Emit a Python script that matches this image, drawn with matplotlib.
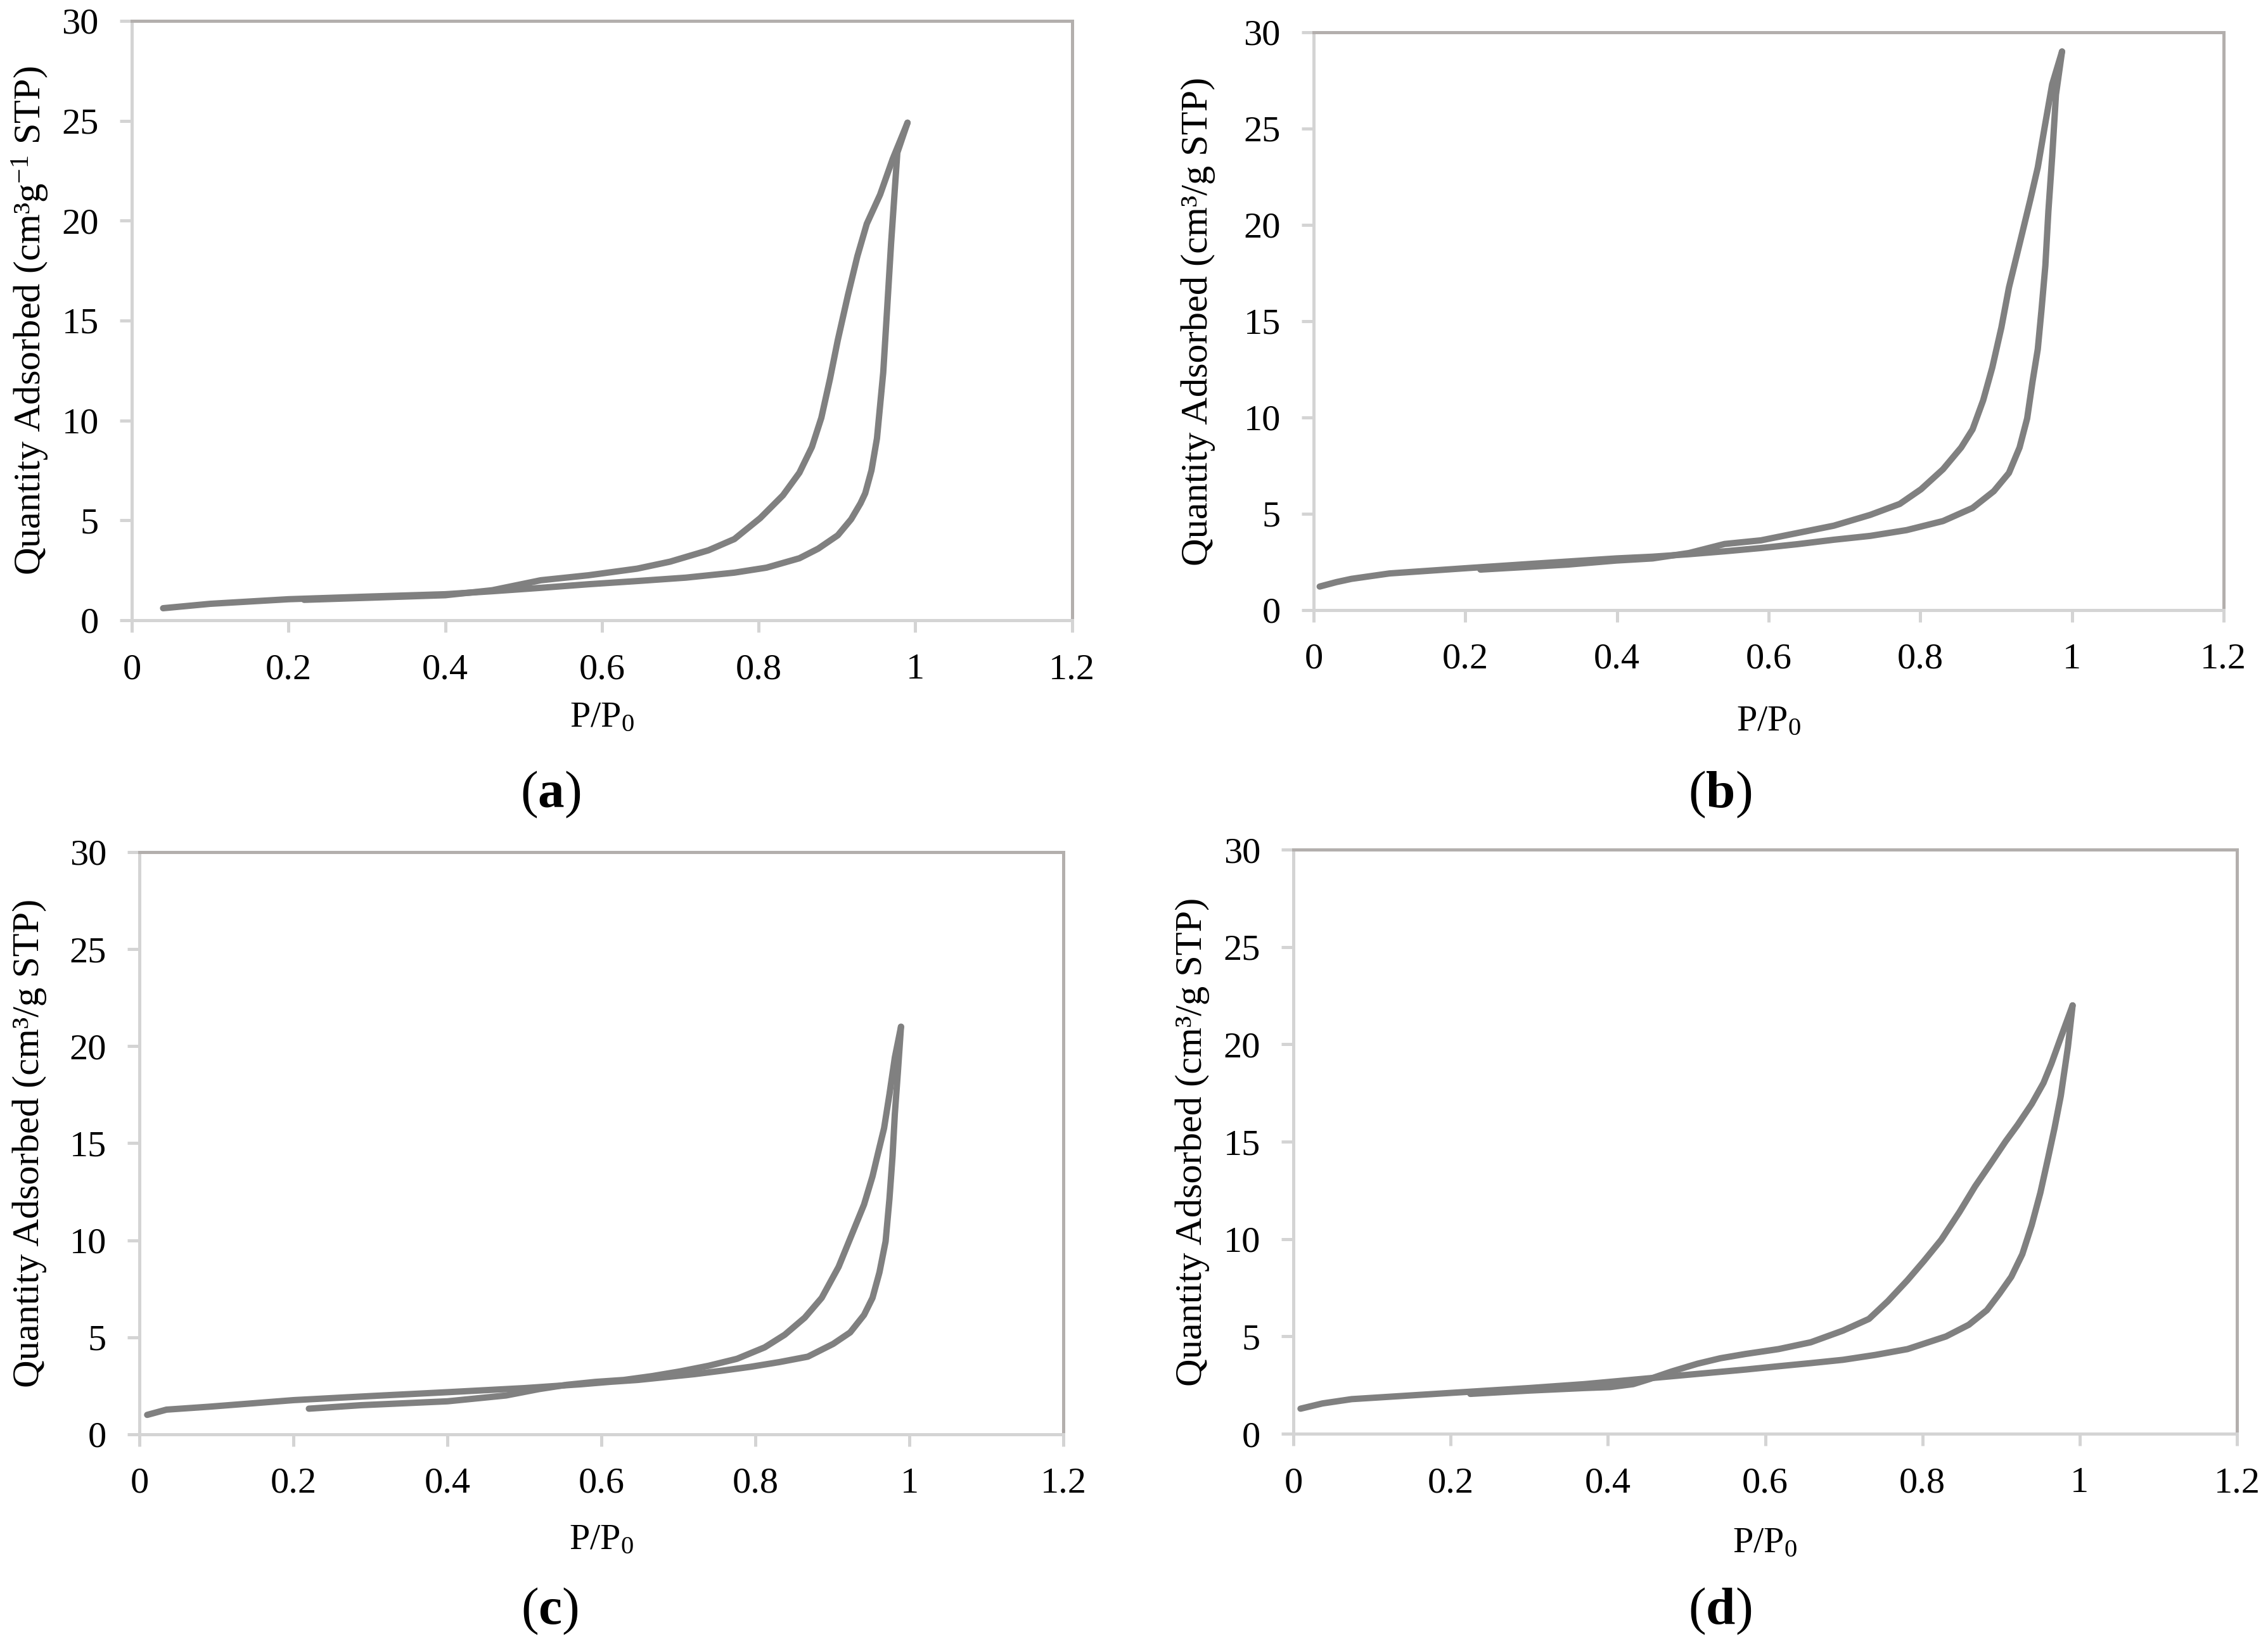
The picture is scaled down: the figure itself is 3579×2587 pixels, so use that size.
import matplotlib
matplotlib.use('Agg')
import matplotlib.pyplot as plt

plt.rcParams['font.family'] = ['Liberation Serif', 'DejaVu Serif']
plt.rcParams['mathtext.fontset'] = 'custom'
plt.rcParams['mathtext.rm'] = 'Liberation Serif'
plt.rcParams['mathtext.it'] = 'Liberation Serif:italic'
plt.rcParams['mathtext.bf'] = 'Liberation Serif:bold'

# (a) isotherm
ads_x_a = [0.04, 0.1, 0.2, 0.3, 0.4, 0.46, 0.522, 0.583, 0.645, 0.707, 0.769, 0.81, 0.852, 0.876, 0.901,
           0.918, 0.93, 0.936, 0.944, 0.951, 0.955, 0.959, 0.964, 0.969, 0.977, 0.99]
ads_y_a = [0.6, 0.82, 1.05, 1.18, 1.3, 1.45, 1.62, 1.8, 1.96, 2.13, 2.38, 2.63, 3.1, 3.58, 4.25,
           5.05, 5.85, 6.35, 7.5, 9.1, 10.75, 12.4, 15.6, 18.85, 23.4, 24.9]
des_x_a = [0.99, 0.971, 0.955, 0.938, 0.926, 0.914, 0.901, 0.891, 0.88, 0.868, 0.852, 0.831, 0.802, 0.769,
           0.736, 0.687, 0.645, 0.583, 0.522, 0.46, 0.4, 0.3, 0.22]
des_y_a = [24.9, 23.08, 21.3, 19.84, 18.22, 16.28, 14.02, 12.07, 10.13, 8.67, 7.38, 6.25, 5.11, 4.06,
           3.5, 2.93, 2.58, 2.25, 2.0, 1.5, 1.25, 1.12, 1.02]

# (b) isotherm
ads_x_b = [0.008, 0.03, 0.05, 0.1, 0.2, 0.3, 0.399, 0.447, 0.495, 0.542, 0.59, 0.638, 0.686, 0.734, 0.782,
           0.83, 0.869, 0.897, 0.917, 0.931, 0.941, 0.948, 0.955, 0.96, 0.965, 0.969, 0.974, 0.979, 0.987]
ads_y_b = [1.22, 1.45, 1.62, 1.9, 2.17, 2.43, 2.68, 2.77, 2.9, 3.05, 3.22, 3.42, 3.65, 3.85, 4.15,
           4.62, 5.3, 6.17, 7.12, 8.44, 9.95, 11.84, 13.54, 15.62, 17.88, 20.71, 23.55, 26.76, 29.0]
des_x_b = [0.987, 0.974, 0.964, 0.955, 0.945, 0.931, 0.917, 0.907, 0.895, 0.883, 0.869, 0.854, 0.83, 0.801,
           0.773, 0.734, 0.686, 0.638, 0.59, 0.542, 0.495, 0.447, 0.399, 0.335, 0.22]
des_y_b = [29.0, 27.3, 25.06, 22.98, 21.28, 19.01, 16.75, 14.67, 12.59, 10.89, 9.38, 8.44, 7.31, 6.27,
           5.51, 4.94, 4.38, 4.0, 3.62, 3.43, 2.96, 2.68, 2.57, 2.36, 2.1]

# (c) isotherm
ads_x_c = [0.01, 0.035, 0.09, 0.2, 0.3, 0.4, 0.5, 0.574, 0.61, 0.647, 0.684, 0.721, 0.757, 0.794, 0.831,
           0.868, 0.901, 0.923, 0.941, 0.952, 0.961, 0.969, 0.974, 0.978, 0.981, 0.985, 0.989]
ads_y_c = [1.0, 1.27, 1.42, 1.76, 1.97, 2.17, 2.38, 2.58, 2.7, 2.8, 2.95, 3.1, 3.28, 3.48, 3.72,
           4.0, 4.66, 5.25, 6.15, 7.03, 8.34, 9.94, 12.13, 14.32, 16.5, 18.69, 21.0]
des_x_c = [0.989, 0.981, 0.974, 0.967, 0.959, 0.952, 0.941, 0.926, 0.908, 0.886, 0.864, 0.838, 0.812,
           0.776, 0.739, 0.702, 0.666, 0.629, 0.592, 0.555, 0.519, 0.476, 0.4, 0.288, 0.22]
des_y_c = [21.0, 19.42, 17.52, 15.77, 14.46, 13.29, 11.84, 10.38, 8.63, 7.03, 6.01, 5.13, 4.48,
           3.89, 3.53, 3.24, 3.0, 2.8, 2.7, 2.55, 2.33, 2.0, 1.7, 1.5, 1.32]

# (d) isotherm
ads_x_d = [0.009, 0.037, 0.074, 0.2, 0.3, 0.37, 0.411, 0.452, 0.493, 0.534, 0.575, 0.617, 0.658, 0.699,
           0.74, 0.781, 0.83, 0.859, 0.882, 0.898, 0.913, 0.927, 0.939, 0.95, 0.96, 0.968, 0.976, 0.985, 0.991]
ads_y_d = [1.29, 1.56, 1.78, 2.1, 2.35, 2.55, 2.7, 2.85, 3.0, 3.15, 3.3, 3.47, 3.63, 3.8,
           4.05, 4.35, 5.0, 5.6, 6.35, 7.2, 8.06, 9.22, 10.72, 12.38, 14.2, 15.7, 17.36, 19.85, 22.0]
des_x_d = [0.991, 0.976, 0.964, 0.954, 0.939, 0.921, 0.906, 0.888, 0.867, 0.847, 0.824, 0.802, 0.781,
           0.756, 0.732, 0.699, 0.658, 0.617, 0.575, 0.543, 0.514, 0.481, 0.452, 0.432, 0.403, 0.37, 0.3, 0.225]
des_y_d = [22.0, 20.35, 19.01, 18.02, 16.94, 15.86, 15.03, 13.95, 12.71, 11.38, 9.97, 8.88, 7.89,
           6.81, 5.9, 5.3, 4.7, 4.35, 4.1, 3.88, 3.6, 3.2, 2.8, 2.55, 2.4, 2.35, 2.22, 2.05]

x_ticks = [0, 0.2, 0.4, 0.6, 0.8, 1, 1.2]
x_ticklabels = ['0', '0.2', '0.4', '0.6', '0.8', '1', '1.2']
y_ticks = [0, 5, 10, 15, 20, 25, 30]

ylabel_a = 'Quantity Adsorbed (cm\u00b3g$^{\\mathregular{-1}}$ STP)'
ylabel_other = 'Quantity Adsorbed (cm\u00b3/g STP)'
xlabel = 'P/P$_0$'

# axes rectangles [left, bottom, width, height] in figure fractions
panels = [
    dict(rect=[0.0581, 0.6216, 0.4146, 0.3657], ads=(ads_x_a, ads_y_a), des=(des_x_a, des_y_a),
         ylabel=ylabel_a, ylab_x=-0.108, xlab_y=-0.163, tag='a', tag_pos=(0.2428, 0.5150)),
    dict(rect=[0.5792, 0.6278, 0.4012, 0.3525], ads=(ads_x_b, ads_y_b), des=(des_x_b, des_y_b),
         ylabel=ylabel_other, ylab_x=-0.127, xlab_y=-0.193, tag='b', tag_pos=(0.7583, 0.5150)),
    dict(rect=[0.0615, 0.1249, 0.4074, 0.3552], ads=(ads_x_c, ads_y_c), des=(des_x_c, des_y_c),
         ylabel=ylabel_other, ylab_x=-0.119, xlab_y=-0.182, tag='c', tag_pos=(0.2425, 0.0170)),
    dict(rect=[0.5703, 0.1252, 0.4160, 0.3564], ads=(ads_x_d, ads_y_d), des=(des_x_d, des_y_d),
         ylabel=ylabel_other, ylab_x=-0.107, xlab_y=-0.188, tag='d', tag_pos=(0.7583, 0.0170)),
]

line_color = '#808080'
axis_color = '#d4d4d4'
border_color = '#b3afad'

fig = plt.figure(figsize=(3579 / 300, 2587 / 300), dpi=300)

for p in panels:
    ax = fig.add_axes(p['rect'])
    ax.plot(p['ads'][0], p['ads'][1], color=line_color, lw=2.4, solid_capstyle='round', solid_joinstyle='round')
    ax.plot(p['des'][0], p['des'][1], color=line_color, lw=2.4, solid_capstyle='round', solid_joinstyle='round')
    ax.set_xlim(0, 1.2)
    ax.set_ylim(0, 30)
    ax.set_xticks(x_ticks)
    ax.set_xticklabels(x_ticklabels)
    ax.set_yticks(y_ticks)
    ax.tick_params(direction='out', length=4.5, width=1.2, color=axis_color,
                   labelsize=14, pad=8, top=False, right=False)
    for side in ['left', 'bottom']:
        ax.spines[side].set_color(axis_color)
        ax.spines[side].set_linewidth(1.2)
    for side in ['top', 'right']:
        ax.spines[side].set_color(border_color)
        ax.spines[side].set_linewidth(1.2)
    ax.set_ylabel(p['ylabel'], fontsize=14.5, va='center', ha='center')
    ax.yaxis.set_label_coords(p['ylab_x'], 0.5)
    ax.set_xlabel(xlabel, fontsize=14, va='center')
    ax.xaxis.set_label_coords(0.5, p['xlab_y'])
    fig.text(p['tag_pos'][0], p['tag_pos'][1], '($\\mathbf{' + p['tag'] + '}$)',
             fontsize=20, ha='center', va='center')

plt.savefig('out.png', dpi=300)
